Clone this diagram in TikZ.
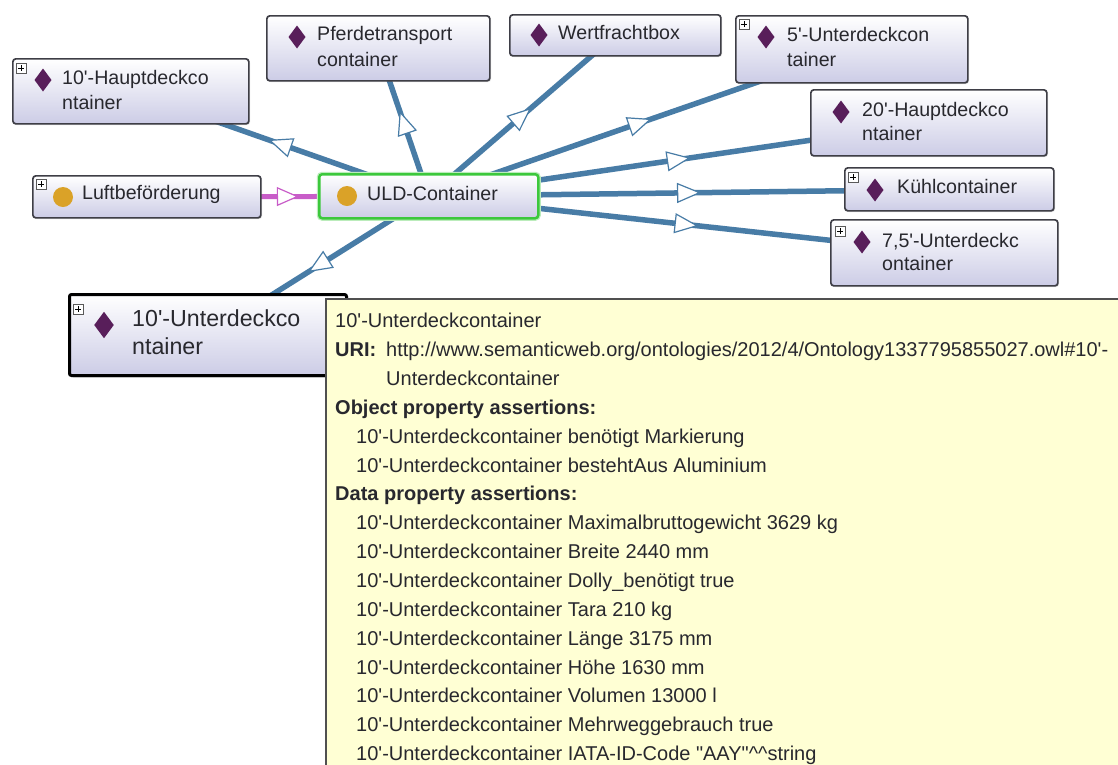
\documentclass[tikz,border=0pt]{standalone}
\usepackage{fontspec}
\newfontfamily\uifont{Liberation Sans}
\usetikzlibrary{arrows.meta,decorations.markings,shadows}
\pgfdeclarelayer{background}
\pgfsetlayers{background,main}

\definecolor{edgeblue}{RGB}{72,124,166}
\definecolor{subpink}{RGB}{200,92,200}
\definecolor{boxlav}{RGB}{204,204,230}
\definecolor{boxrim}{RGB}{62,62,70}
\definecolor{indiv}{RGB}{88,30,90}
\definecolor{classgold}{RGB}{218,162,40}
\definecolor{selgreen}{RGB}{60,200,60}
\definecolor{tipyellow}{RGB}{255,255,212}
\definecolor{inktext}{RGB}{40,40,46}

% purple diamond for an individual
\newcommand\indivmark[2][1]{\fill[indiv] (#2) +(0,-11.5*#1) -- +(8.5*#1,0) -- +(0,11.5*#1) -- +(-8.5*#1,0) -- cycle;}
% small expand button in a corner
\newcommand\expandmark[1]{%
  \draw[line width=0.6pt, draw=gray!70!black, fill=white] (#1) rectangle +(10,10);
  \draw[line width=1pt, draw=black] (#1) ++(2,5) -- ++(6,0) (#1) ++(5,2) -- ++(0,6);}

\begin{document}
\begin{tikzpicture}[x=1pt,y=-1pt,
  box/.style={draw=boxrim, line width=1.7pt, rounded corners=3pt,
    top color=white, bottom color=boxlav, inner sep=0pt, anchor=north west,
    drop shadow={shadow xshift=1.2pt, shadow yshift=-1.2pt, opacity=0.25}},
  lbl/.style={anchor=mid west, inner sep=0pt, text=inktext, yshift=-2.5pt,
    font=\uifont\fontsize{19.6}{24}\selectfont},
  biglbl/.style={lbl, font=\uifont\fontsize{23.2}{28}\selectfont},
  tiptext/.style={anchor=mid west, inner sep=0pt, text=inktext, yshift=-2.5pt,
    font=\uifont\fontsize{20}{24}\selectfont},
  isa/.style={draw=edgeblue, line width=5.5pt, postaction={decorate},
    decoration={markings, mark=at position 0.5 with {\pgftransformxshift{12pt}%
      \arrow{Triangle[fill=white, line width=1.2pt, length=24pt, width=20pt]}}}},
  sub/.style={draw=subpink, line width=5pt, postaction={decorate},
    decoration={markings, mark=at position 0.5 with {\pgftransformxshift{11pt}%
      \arrow{Triangle[fill=white, line width=1.2pt, length=22pt, width=19pt]}}}}
]
\useasboundingbox (0,0) rectangle (1118,764);
\clip (0,0) rectangle (1118,764);

% ---- boxes ----
\node[box, minimum width=236pt, minimum height=65pt] (hd10) at (12,58) {};
\node[box, minimum width=223pt, minimum height=65pt] (pferde) at (266,15) {};
\node[box, minimum width=211pt, minimum height=41pt] (wert) at (509,14) {};
\node[box, minimum width=232pt, minimum height=67pt] (u5) at (735,15) {};
\node[box, minimum width=236pt, minimum height=66pt] (hd20) at (810,89) {};
\node[box, minimum width=209pt, minimum height=43pt] (kuehl) at (844,167) {};
\node[box, minimum width=227pt, minimum height=66pt] (u75) at (830,219) {};
\node[box, minimum width=228pt, minimum height=42pt] (luft) at (32,175) {};
\node[box, draw=selgreen, line width=2.5pt,
      preaction={draw=selgreen!35, line width=5pt}, minimum width=219pt, minimum height=44pt] (uld) at (318,173) {};
\node[box, draw=black, line width=3pt, rounded corners=2pt,
      drop shadow={shadow xshift=2pt, shadow yshift=-2pt, opacity=0.4},
      minimum width=277pt, minimum height=81pt] (u10) at (68,293) {};

% ---- connectors (centre to centre, hidden under the opaque boxes) ----
\begin{pgfonlayer}{background}
  \fill[white] (0,0) rectangle (1118,764);
  \draw[isa] (uld.center) -- (hd10.center);
  \draw[isa] (uld.center) -- (pferde.center);
  \draw[isa] (uld.center) -- (wert.center);
  \draw[isa] (uld.center) -- (u5.center);
  \draw[isa] (uld.center) -- (hd20.center);
  \draw[isa] (uld.center) -- (kuehl.center);
  \draw[isa] (uld.center) -- (u75.center);
  \draw[isa] (uld.center) -- (u10.center);
  \draw[sub] (luft.center) -- (uld.center);
\end{pgfonlayer}

% ---- icons ----
\expandmark{16,63}
\expandmark{36,179}
\expandmark{739,19}
\expandmark{848,172}
\expandmark{835,226}
\expandmark{73,304}
\indivmark{43,80}
\indivmark{297,37}
\indivmark{539,35}
\indivmark{766,37}
\indivmark{841,112}
\indivmark{875,190}
\indivmark{862,242}
\indivmark[1.15]{104,325}
\fill[classgold] (63,197) circle (10);
\fill[classgold] (347,196) circle (10);

% ---- labels ----
\node[lbl] (hd10a) at (62,80) {10'-Hauptdeckco};
\node[lbl] (hd10b) at (62,105) {ntainer};
\node[lbl] (pferdea) at (317,36) {Pferdetransport};
\node[lbl] (pferdeb) at (317,62) {container};
\node[lbl] (werta) at (558,35) {Wertfrachtbox};
\node[lbl] (u5a) at (787,37) {5'-Unterdeckcon};
\node[lbl] (u5b) at (787,62) {tainer};
\node[lbl] (hd20a) at (862,112) {20'-Hauptdeckco};
\node[lbl] (hd20b) at (862,136) {ntainer};
\node[lbl] (kuehla) at (897,189) {Kühlcontainer};
\node[lbl] (u75a) at (882,243) {7,5'-Unterdeckc};
\node[lbl] (u75b) at (882,266) {ontainer};
\node[lbl] (lufta) at (82,195) {Luftbeförderung};
\node[lbl] (ulda) at (367,196) {ULD-Container};
\node[biglbl] (u10a) at (132,322) {10'-Unterdeckco};
\node[biglbl] (u10b) at (132,350) {ntainer};

% ---- tooltip ----
\node[draw={rgb,255:red,80;green,80;blue,80}, line width=1.5pt, fill=tipyellow,
      anchor=north west, inner sep=0pt, minimum width=820pt, minimum height=500pt] (tip) at (325,298) {};
\node[tiptext] (t0) at (335,323) {10'-Unterdeckcontainer};
\node[tiptext] (t1a) at (335,351.9) {\bfseries URI:};
\node[tiptext] (t1b) at (386,351.9) {http://www.semanticweb.org/ontologies/2012/4/Ontology1337795855027.owl\#10'-};
\node[tiptext] (t2) at (386,380.7) {Unterdeckcontainer};
\node[tiptext] (t3) at (335,409.6) {\bfseries Object property assertions:};
\node[tiptext] (t4) at (356,438.5) {10'-Unterdeckcontainer benötigt Markierung};
\node[tiptext] (t5) at (356,467.4) {10'-Unterdeckcontainer bestehtAus Aluminium};
\node[tiptext] (t6) at (335,496.2) {\bfseries Data property assertions:};
\node[tiptext] (t7) at (356,525.1) {10'-Unterdeckcontainer Maximalbruttogewicht 3629 kg};
\node[tiptext] (t8) at (356,554) {10'-Unterdeckcontainer Breite 2440 mm};
\node[tiptext] (t9) at (356,582.8) {10'-Unterdeckcontainer Dolly\_benötigt true};
\node[tiptext] (t10) at (356,611.7) {10'-Unterdeckcontainer Tara 210 kg};
\node[tiptext] (t11) at (356,640.6) {10'-Unterdeckcontainer Länge 3175 mm};
\node[tiptext] (t12) at (356,669.4) {10'-Unterdeckcontainer Höhe 1630 mm};
\node[tiptext] (t13) at (356,698.3) {10'-Unterdeckcontainer Volumen 13000 l};
\node[tiptext] (t14) at (356,727.2) {10'-Unterdeckcontainer Mehrweggebrauch true};
\node[tiptext] (t15) at (356,756.1) {10'-Unterdeckcontainer IATA-ID-Code "AAY"\textasciicircum\textasciicircum string};
\end{tikzpicture}
\end{document}
